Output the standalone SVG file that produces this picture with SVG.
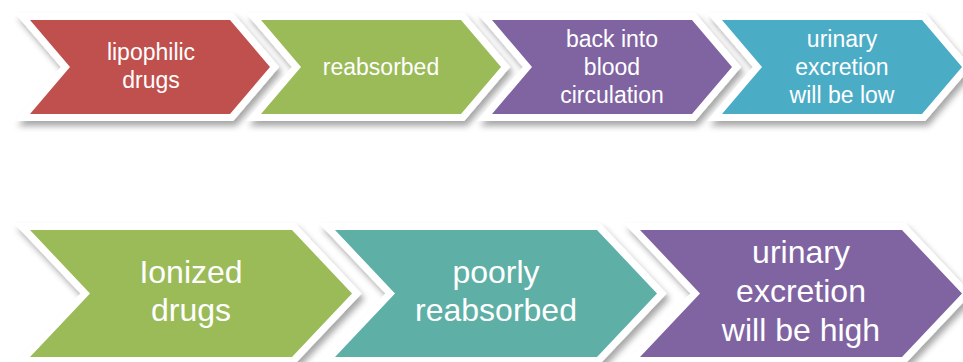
<svg xmlns="http://www.w3.org/2000/svg" width="963" height="362" viewBox="0 0 963 362">
<defs>
<filter id="sh" x="-10%" y="-20%" width="130%" height="150%">
<feDropShadow dx="3" dy="5" stdDeviation="3" flood-color="#000" flood-opacity="0.35"/>
</filter>
</defs>
<style>
.bd{fill:#fff;stroke:#fff;stroke-width:14;stroke-linejoin:miter;filter:url(#sh)}
.t{font-family:"Liberation Sans",Arial,sans-serif;fill:#fff;text-anchor:middle}
.s{font-size:23px}
.b{font-size:32px}
</style>
<rect width="963" height="362" fill="#fff"/>
<g id="n1">
<polygon class="bd" points="30,20 230,20 270,67 230,114 30,114 70,67"/>
<polygon fill="#C0504D" points="30,20 230,20 270,67 230,114 30,114 70,67"/>
<text class="t s"><tspan x="151" y="60">lipophilic</tspan><tspan x="151" y="88">drugs</tspan></text>
</g>
<g id="n2">
<polygon class="bd" points="261,20 461,20 501,67 461,114 261,114 301,67"/>
<polygon fill="#9BBB59" points="261,20 461,20 501,67 461,114 261,114 301,67"/>
<text class="t s" x="381" y="75">reabsorbed</text>
</g>
<g id="n3">
<polygon class="bd" points="492,20 692,20 732,67 692,114 492,114 532,67"/>
<polygon fill="#8064A2" points="492,20 692,20 732,67 692,114 492,114 532,67"/>
<text class="t s"><tspan x="612" y="47">back into</tspan><tspan x="612" y="75">blood</tspan><tspan x="612" y="103">circulation</tspan></text>
</g>
<g id="n4">
<polygon class="bd" points="722,20 922,20 962,67 922,114 722,114 762,67"/>
<polygon fill="#4BACC6" points="722,20 922,20 962,67 922,114 722,114 762,67"/>
<text class="t s"><tspan x="842" y="47">urinary</tspan><tspan x="842" y="75">excretion</tspan><tspan x="842" y="103">will be low</tspan></text>
</g>
<g id="n5">
<polygon class="bd" points="30,230 292,230 352,293.5 292,357 30,357 90,293.5"/>
<polygon fill="#9BBB59" points="30,230 292,230 352,293.5 292,357 30,357 90,293.5"/>
<text class="t b"><tspan x="191" y="283">Ionized</tspan><tspan x="191" y="321">drugs</tspan></text>
</g>
<g id="n6">
<polygon class="bd" points="335,230 597,230 657,293.5 597,357 335,357 395,293.5"/>
<polygon fill="#5EAFA6" points="335,230 597,230 657,293.5 597,357 335,357 395,293.5"/>
<text class="t b"><tspan x="496" y="283">poorly</tspan><tspan x="496" y="321">reabsorbed</tspan></text>
</g>
<g id="n7">
<polygon class="bd" points="640,230 902,230 962,293.5 902,357 640,357 700,293.5"/>
<polygon fill="#8064A2" points="640,230 902,230 962,293.5 902,357 640,357 700,293.5"/>
<text class="t b"><tspan x="801" y="263">urinary</tspan><tspan x="801" y="302">excretion</tspan><tspan x="801" y="341">will be high</tspan></text>
</g>
<g id="connectors"/>
</svg>
